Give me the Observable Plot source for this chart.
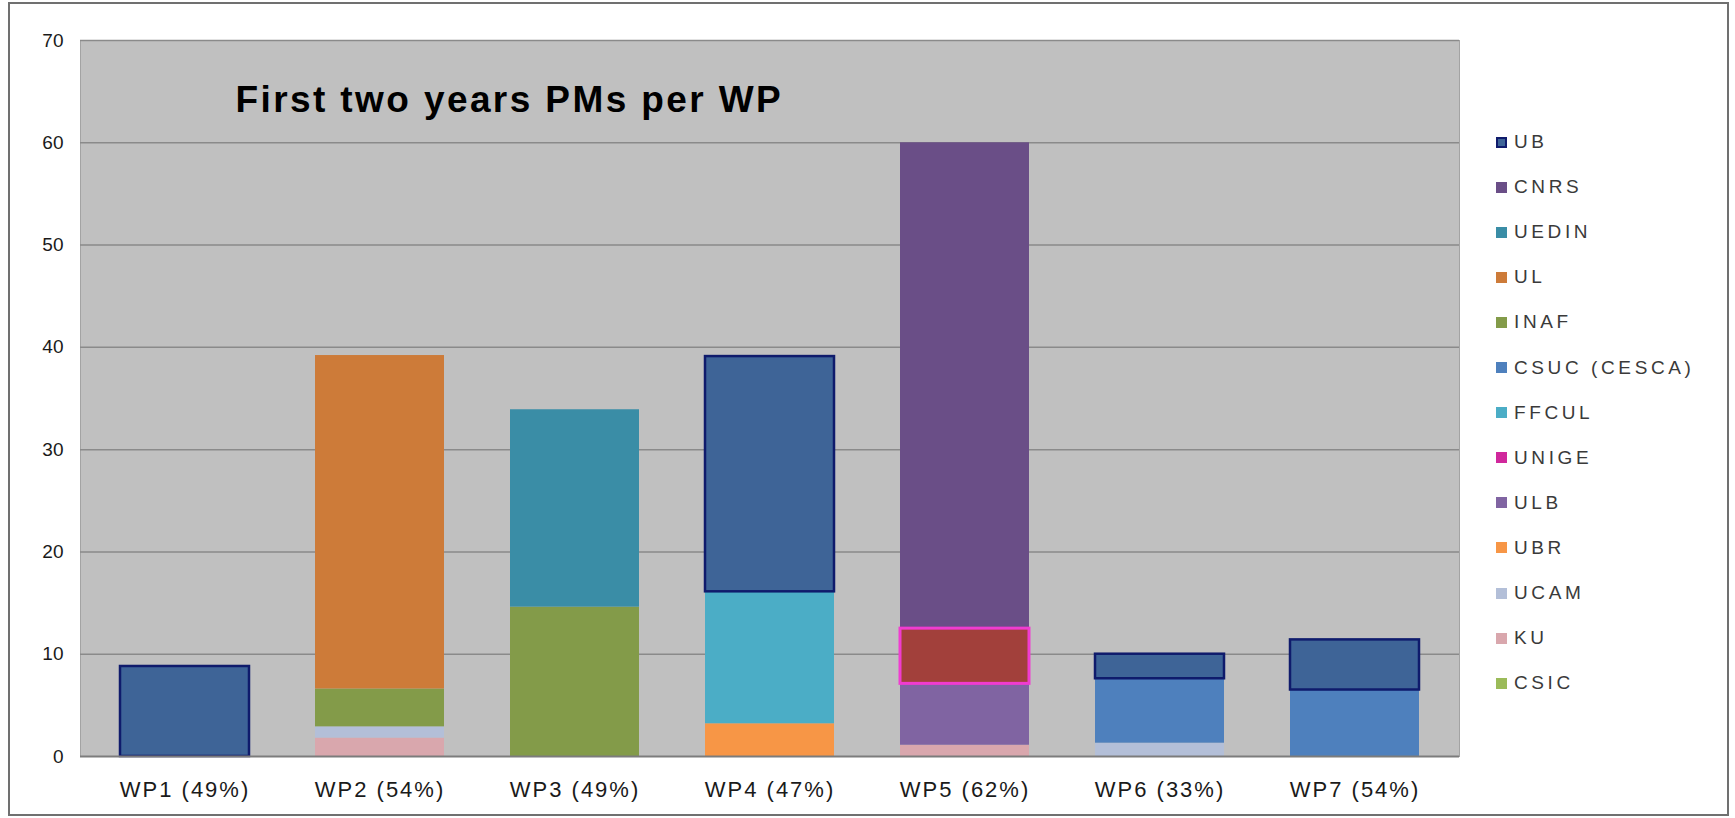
<!DOCTYPE html>
<html><head><meta charset="utf-8">
<script src="https://cdn.jsdelivr.net/npm/d3@7"></script>
<script src="https://cdn.jsdelivr.net/npm/@observablehq/plot@0.6"></script>
<style>
html,body{margin:0;padding:0;background:#fff;}
#wrap{position:relative;width:1735px;height:818px;overflow:hidden;font-family:"Liberation Sans",Arial,sans-serif;background:#fff;}
#border{position:absolute;left:8px;top:2px;width:1721px;height:814px;border:2px solid #707070;box-sizing:border-box;pointer-events:none;}
#chart{position:absolute;left:0;top:0;}
#legend{position:absolute;left:0;top:0;}
.item{position:absolute;white-space:nowrap;font-size:19px;color:#3a3a3a;letter-spacing:3.6px;line-height:20px;}
.sw{position:absolute;width:11px;height:11px;box-sizing:border-box;}
g[aria-label="x-axis tick label"] text{letter-spacing:2px;}
.ttl{letter-spacing:2.4px;}
</style>
</head><body>
<div id="wrap"><div id="chart"></div><div id="legend"></div><div id="border"></div></div>
<script>
// Categories (work packages) and partners (legend order, top to bottom)
const wps = ["WP1 (49%)", "WP2 (54%)", "WP3 (49%)", "WP4 (47%)", "WP5 (62%)", "WP6 (33%)", "WP7 (54%)"];
const orgs = ["UB", "CNRS", "UEDIN", "UL", "INAF", "CSUC (CESCA)", "FFCUL", "UNIGE", "ULB", "UBR", "UCAM", "KU", "CSIC"];
const barColors = ["#3e6497", "#6a4e87", "#3a8da6", "#cd7b39", "#839b49", "#4e80bd", "#4badc6", "#a2403b", "#8064a2", "#f79646", "#b3bfd8", "#d9a7ad", "#9bbb59"];
const legendColors = ["#3e6497", "#6a4e87", "#3a8da6", "#cd7b39", "#839b49", "#4e80bd", "#4badc6", "#d0289c", "#8064a2", "#f79646", "#b3bfd8", "#d9a7ad", "#9bbb59"];

// PMs per partner for each WP (same order as wps)
const UB    = [8.8, 0, 0, 23.0, 0, 2.4, 4.9];
const CNRS  = [0, 0, 0, 0, 47.5, 0, 0];
const UEDIN = [0, 0, 19.3, 0, 0, 0, 0];
const UL    = [0, 32.6, 0, 0, 0, 0, 0];
const INAF  = [0, 3.7, 14.6, 0, 0, 0, 0];
const CSUC  = [0, 0, 0, 0, 0, 6.3, 6.5];
const FFCUL = [0, 0, 0, 12.9, 0, 0, 0];
const UNIGE = [0, 0, 0, 0, 5.4, 0, 0];
const ULB   = [0, 0, 0, 0, 6.0, 0, 0];
const UBR   = [0, 0, 0, 3.2, 0, 0, 0];
const UCAM  = [0, 1.1, 0, 0, 0, 1.3, 0];
const KU    = [0, 1.8, 0, 0, 1.1, 0, 0];
const CSIC  = [0, 0, 0, 0, 0, 0, 0];

const yTicks = [0, 10, 20, 30, 40, 50, 60, 70];
const title = "First two years PMs per WP";

const series = [UB, CNRS, UEDIN, UL, INAF, CSUC, FFCUL, UNIGE, ULB, UBR, UCAM, KU, CSIC];
// stacked bottom-to-top in reverse legend order (Excel style)
const table = [];
for (let k = orgs.length - 1; k >= 0; k--) {
  series[k].forEach((v, i) => { if (v > 0) table.push({wp: wps[i], org: orgs[k], value: v}); });
}

const font = '"Liberation Sans", Arial, sans-serif';
const chart = Plot.plot({
  width: 1735, height: 818,
  marginLeft: 80, marginRight: 276, marginTop: 40, marginBottom: 62,
  style: {fontFamily: font, background: "transparent", color: "#111"},
  x: {domain: wps, paddingInner: 0.34, paddingOuter: 0.19, label: null},
  y: {domain: [0, 70], label: null},
  color: {domain: orgs, range: barColors},
  opacity: {type: "identity"},
  marks: [
    Plot.frame({fill: "#c0c0c0", stroke: "#a3a3a3"}),
    Plot.gridY(yTicks.filter(t => t > 0), {stroke: "#8a8a8a", strokeOpacity: 1, strokeWidth: 1.5}),
    Plot.barY(table, {x: "wp", y: "value", fill: "org"}),
    Plot.barY(table, {x: "wp", y: "value", fill: "none", stroke: "#0f1b6c", strokeWidth: 2.5, strokeOpacity: d => d.org === "UB" ? 1 : 0}),
    Plot.barY(table, {x: "wp", y: "value", fill: "none", stroke: "#f03cd0", strokeWidth: 3, strokeOpacity: d => d.org === "UNIGE" ? 1 : 0}),
    Plot.ruleY([0], {stroke: "#7c7c7c", strokeWidth: 2}),
    Plot.axisY({ticks: yTicks, tickSize: 0, tickPadding: 17, fontSize: 19, fill: "#1a1a1a", label: null}),
    Plot.axisX({tickSize: 0, tickPadding: 25, fontSize: 22, fill: "#1a1a1a", label: null}),
    Plot.text([title], {frameAnchor: "top-left", dx: 155, dy: 60, text: d => d, textAnchor: "start", lineAnchor: "middle", fontSize: 37, fontWeight: "bold", fill: "#000", className: "ttl"})
  ]
});
document.getElementById("chart").appendChild(chart);

// legend
const leg = document.getElementById("legend");
orgs.forEach((o, i) => {
  const y = 142 + i * 45.1;
  const sw = document.createElement("div");
  sw.className = "sw";
  sw.style.left = "1496px"; sw.style.top = (y - 5.5) + "px";
  sw.style.background = legendColors[i];
  if (o === "UB") sw.style.border = "2px solid #0f1b6c";
  leg.appendChild(sw);
  const t = document.createElement("div");
  t.className = "item";
  t.style.left = "1514px"; t.style.top = (y - 10) + "px";
  t.textContent = o;
  leg.appendChild(t);
});
</script>
</body></html>
